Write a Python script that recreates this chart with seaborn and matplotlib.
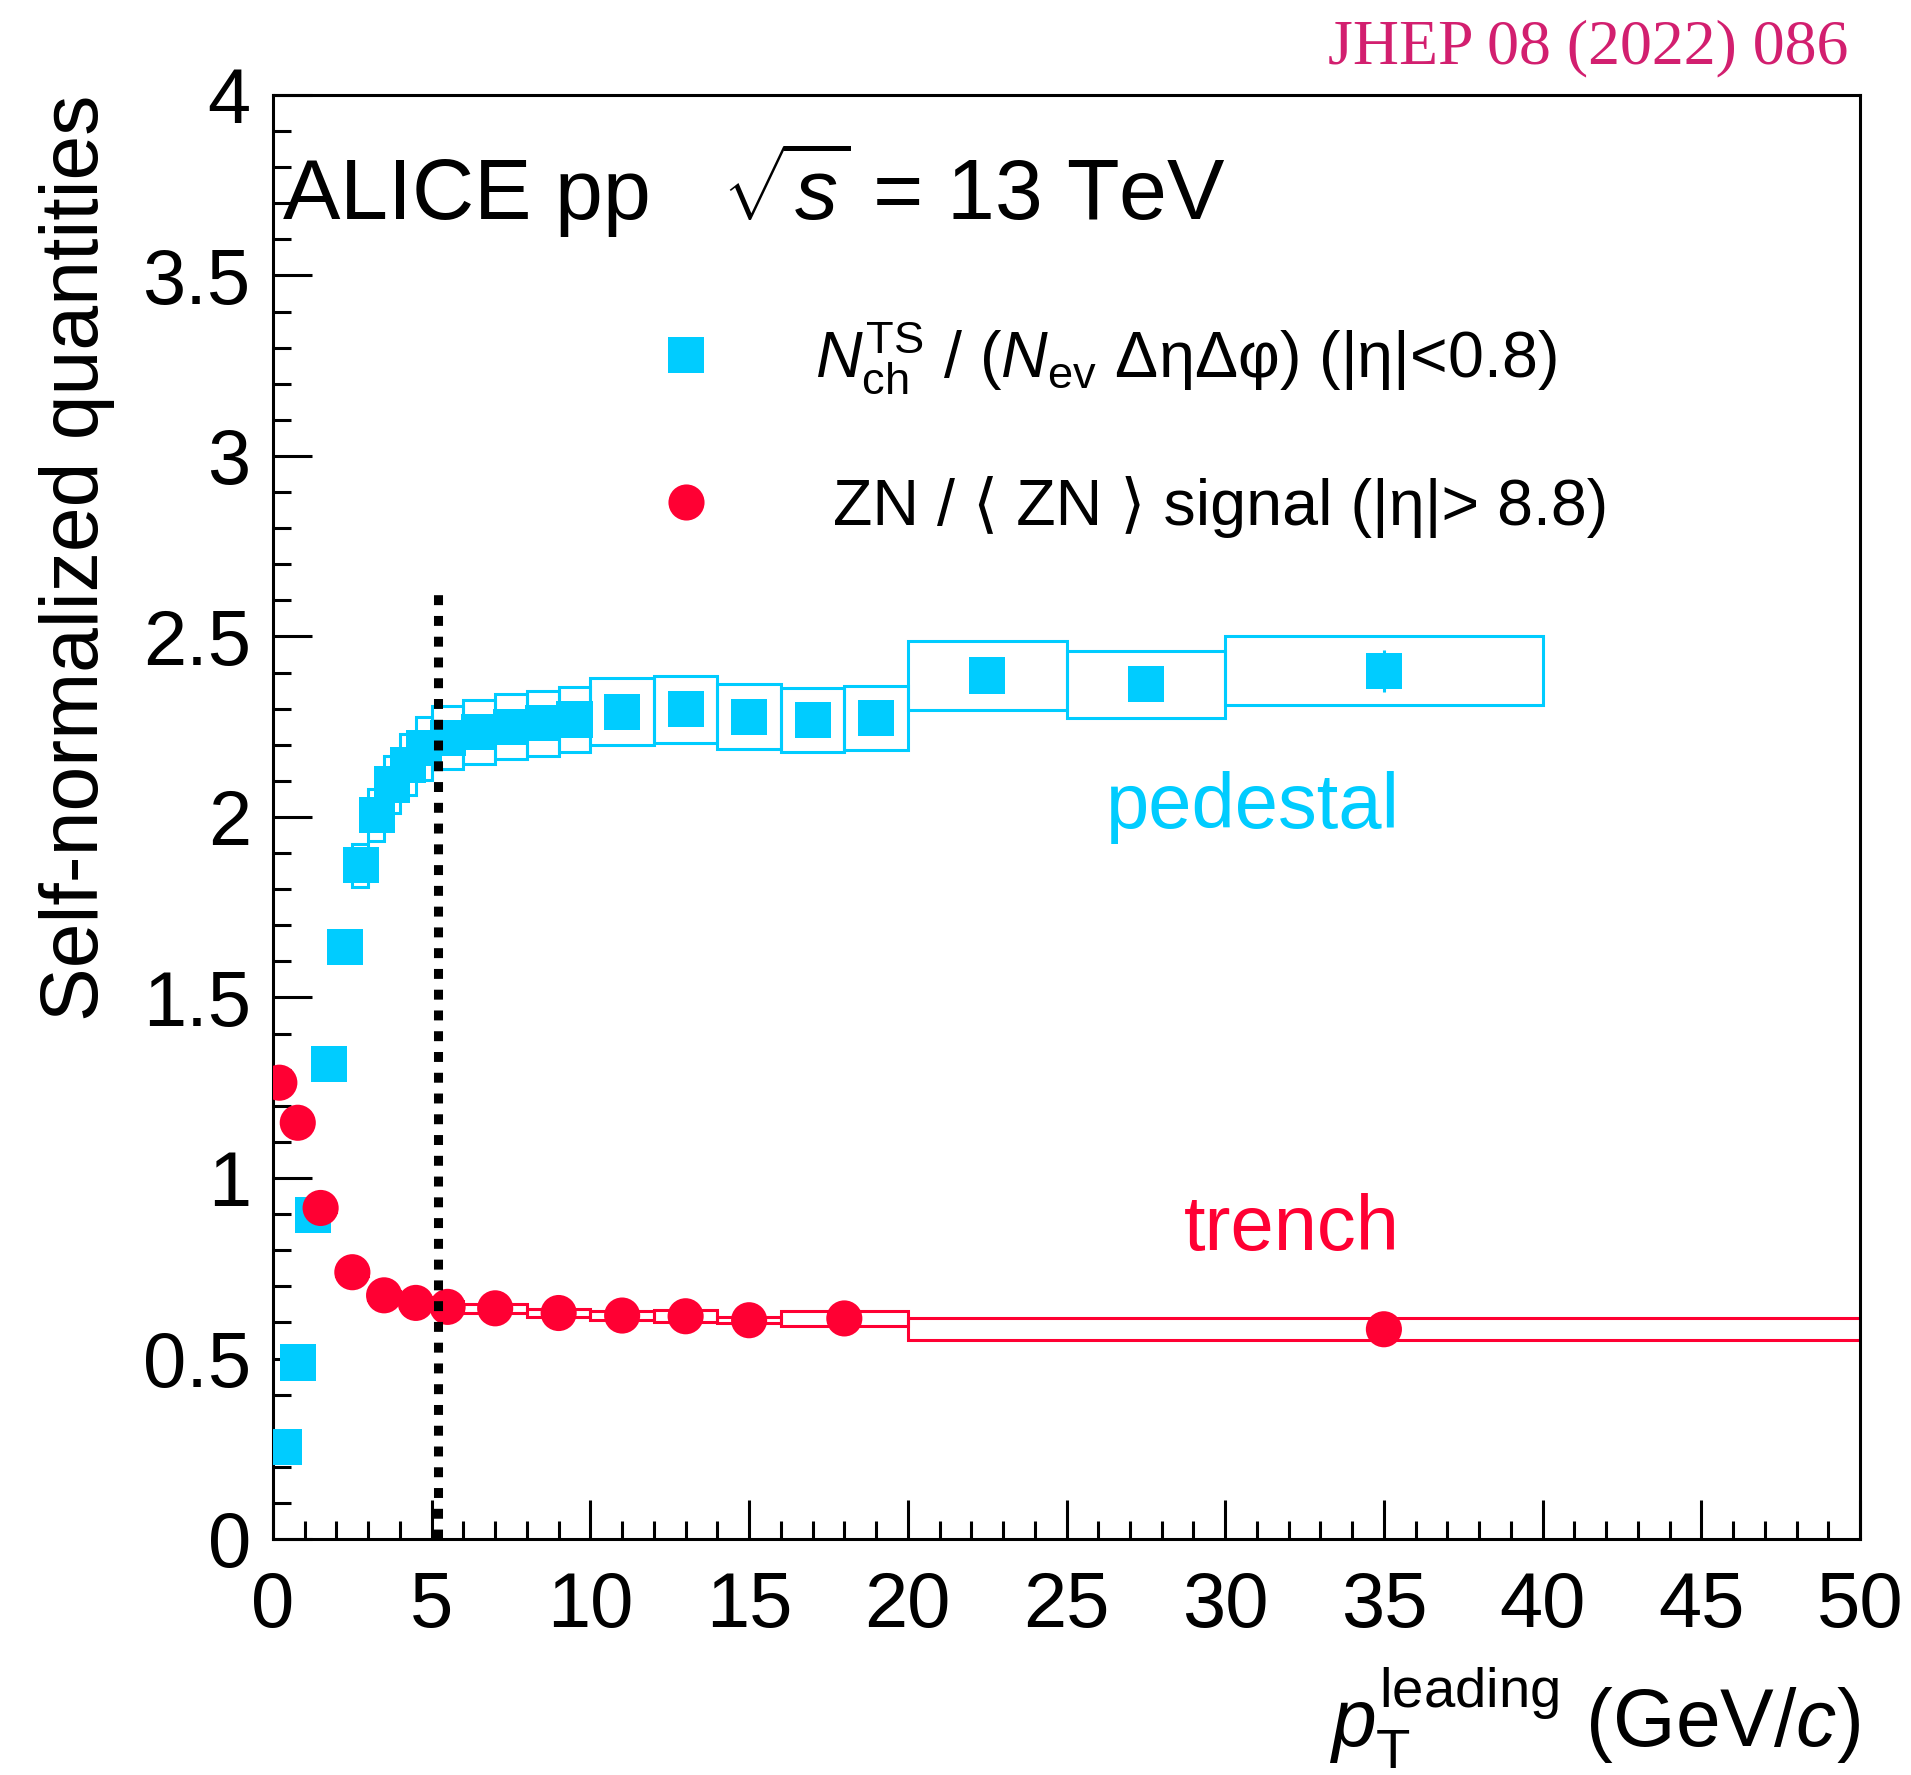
import numpy as np
import pandas as pd
import matplotlib
matplotlib.use("Agg")
import matplotlib.pyplot as plt
import seaborn as sns
from matplotlib.patches import Rectangle
from matplotlib.lines import Line2D
from matplotlib.ticker import MultipleLocator

# ---------------- data ----------------
ped_x = [0.33, 0.78, 1.26, 1.77, 2.27, 2.76, 3.27, 3.75, 4.25, 4.75, 5.5, 6.5, 7.5, 8.5, 9.5,
         11, 13, 15, 17, 19, 22.5, 27.5, 35]
ped_lo = [0.15, 0.5, 1.0, 1.5, 2.0, 2.5, 3.0, 3.5, 4.0, 4.5, 5, 6, 7, 8, 9, 10, 12, 14, 16, 18, 20, 25, 30]
ped_hi = [0.5, 1.0, 1.5, 2.0, 2.5, 3.0, 3.5, 4.0, 4.5, 5, 6, 7, 8, 9, 10, 12, 14, 16, 18, 20, 25, 30, 40]
ped_y = [0.256, 0.489, 0.898, 1.315, 1.639, 1.866, 2.005, 2.09, 2.145, 2.19, 2.22, 2.235, 2.25, 2.26,
         2.27, 2.292, 2.298, 2.278, 2.269, 2.274, 2.392, 2.368, 2.405]
ped_stat = [0.005, 0.005, 0.005, 0.005, 0.005, 0.005, 0.005, 0.005, 0.005, 0.005, 0.005, 0.005, 0.006,
            0.007, 0.008, 0.009, 0.012, 0.015, 0.018, 0.02, 0.025, 0.035, 0.058]
ped_sys = [0.005, 0.010, 0.018, 0.028, 0.040, 0.060, 0.072, 0.080, 0.084, 0.087, 0.088, 0.089, 0.090,
           0.090, 0.090, 0.092, 0.092, 0.090, 0.089, 0.089, 0.095, 0.093, 0.096]

tr_x = [0.2, 0.78, 1.5, 2.5, 3.5, 4.5, 5.5, 7, 9, 11, 13, 15, 18, 35]
tr_lo = [0.0, 0.5, 1, 2, 3, 4, 5, 6, 8, 10, 12, 14, 16, 20]
tr_hi = [0.5, 1, 2, 3, 4, 5, 6, 8, 10, 12, 14, 16, 20, 50]
tr_y = [1.264, 1.153, 0.917, 0.739, 0.675, 0.654, 0.643, 0.639, 0.626, 0.619, 0.617, 0.606, 0.611, 0.581]
tr_sys = [0.01, 0.01, 0.01, 0.01, 0.012, 0.015, 0.015, 0.012, 0.01, 0.012, 0.016, 0.009, 0.021, 0.030]

x_ticks = [0, 5, 10, 15, 20, 25, 30, 35, 40, 45, 50]
y_ticks = [0, 0.5, 1, 1.5, 2, 2.5, 3, 3.5, 4]
y_tick_labels = ["0", "0.5", "1", "1.5", "2", "2.5", "3", "3.5", "4"]

BLUE = "#00CCFF"
RED = "#FF0033"
MAG = "#D21F6F"

# ---------------- style ----------------
sns.set_theme(style="ticks")
plt.rcParams["font.family"] = ["Liberation Sans", "DejaVu Sans"]
plt.rcParams["mathtext.fontset"] = "custom"
plt.rcParams["mathtext.rm"] = "Liberation Sans"
plt.rcParams["mathtext.it"] = "Liberation Sans:italic"
plt.rcParams["mathtext.bf"] = "Liberation Sans:bold"
for k in ["text.color", "axes.labelcolor", "xtick.color", "ytick.color", "axes.edgecolor"]:
    plt.rcParams[k] = "black"

fig = plt.figure(figsize=(19.11, 17.75), dpi=100)
ax = fig.add_axes([273 / 1911, 1 - 1539 / 1775, 1587 / 1911, 1444 / 1775])

ped = pd.DataFrame({"x": ped_x, "y": ped_y})
tr = pd.DataFrame({"x": tr_x, "y": tr_y})

# systematic boxes
for lo, hi, y, s in zip(ped_lo, ped_hi, ped_y, ped_sys):
    ax.add_patch(Rectangle((lo, y - s), hi - lo, 2 * s, fill=False, edgecolor=BLUE, lw=2.2, zorder=2))
for lo, hi, y, s in zip(tr_lo, tr_hi, tr_y, tr_sys):
    ax.add_patch(Rectangle((lo, y - s), hi - lo, 2 * s, fill=False, edgecolor=RED, lw=2.2, zorder=2))

# stat error bars
ax.errorbar(ped_x, ped_y, yerr=ped_stat, fmt="none", ecolor=BLUE, elinewidth=2.2, capsize=0, zorder=3)

# markers
sns.scatterplot(data=ped, x="x", y="y", marker="s", s=26 ** 2, color=BLUE, edgecolor="none",
                linewidth=0, ax=ax, zorder=4)
sns.scatterplot(data=tr, x="x", y="y", marker="o", s=26 ** 2, color=RED, edgecolor="none",
                linewidth=0, ax=ax, zorder=5)

# vertical dotted line
ax.plot([5.2, 5.2], [0, 2.62], color="black", lw=6.5, linestyle=(0, (1.1, 1.2)),
        solid_capstyle="butt", dash_capstyle="butt", zorder=6)

ax.set_xlim(0, 50)
ax.set_ylim(0, 4)
ax.set_xticks(x_ticks)
ax.set_xticklabels([str(t) for t in x_ticks])
ax.set_yticks(y_ticks)
ax.set_yticklabels(y_tick_labels)
ax.xaxis.set_minor_locator(MultipleLocator(1))
ax.yaxis.set_minor_locator(MultipleLocator(0.1))
ax.tick_params(axis="both", which="major", direction="in", length=28, width=2.2, labelsize=56,
               top=False, right=False, colors="black")
ax.tick_params(axis="both", which="minor", direction="in", length=13, width=2.2, top=False, right=False)
ax.tick_params(axis="x", which="major", pad=22)
ax.tick_params(axis="y", which="major", pad=16)
for sp in ax.spines.values():
    sp.set_visible(True)
    sp.set_linewidth(2.2)
    sp.set_color("black")

ax.set_xlabel(r"$p_{\mathrm{T}}^{\mathrm{leading}}$ (GeV/$c$)", fontsize=58, loc="right", labelpad=16)
ax.set_ylabel("Self-normalized quantities", fontsize=58, loc="top", labelpad=20)

# texts
ax.text(0.28, 3.654, r"ALICE pp   $\sqrt{s}$ = 13 TeV", fontsize=62, ha="left", va="baseline")
ax.text(35.5, 1.97, "pedestal", fontsize=56, color=BLUE, ha="right", va="baseline")
ax.text(35.5, 0.80, "trench", fontsize=56, color=RED, ha="right", va="baseline")
fig.text(1848 / 1911, 1 - 63 / 1775, "JHEP 08 (2022) 086", fontsize=46, color=MAG,
         family=["Liberation Serif", "DejaVu Serif"], ha="right", va="baseline")

# legend
handles = [Line2D([], [], marker="s", ls="none", color=BLUE, markersize=26, markeredgewidth=0),
           Line2D([], [], marker="o", ls="none", color=RED, markersize=26, markeredgewidth=0)]
labels = [r"$N_{\mathrm{ch}}^{\mathrm{TS}}$ / ($N_{\mathrm{ev}}$ ΔηΔφ) (|η|<0.8)",
          " ZN / ⟨ ZN ⟩ signal (|η|> 8.8)"]
ax.legend(handles, labels, loc="center left", bbox_to_anchor=(0.242, 0.769), frameon=False,
          fontsize=46.5, handlelength=0.9, handletextpad=1.55, labelspacing=1.22, borderpad=0,
          borderaxespad=0)

fig.savefig("out.png", dpi=100)
